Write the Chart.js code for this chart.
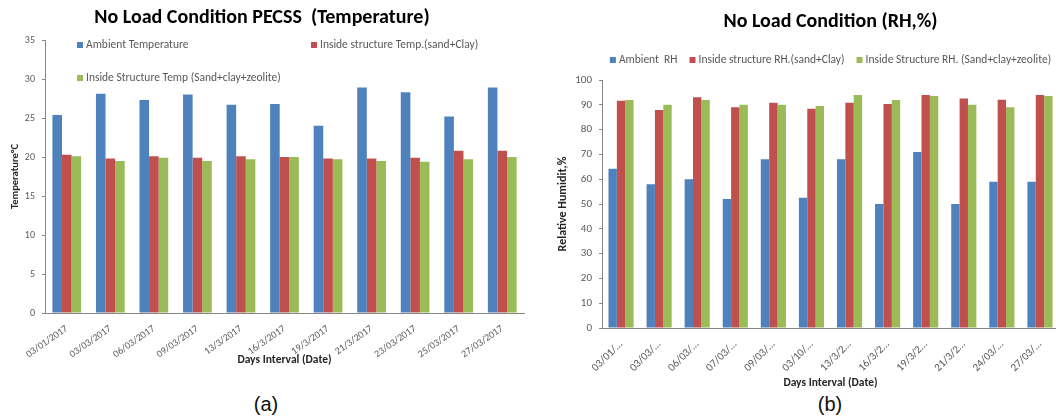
<!DOCTYPE html>
<html>
<head>
<meta charset="utf-8">
<title>No Load Condition</title>
<script src="https://cdn.jsdelivr.net/npm/chart.js@4.4.1/dist/chart.umd.min.js"></script>
<style>
  body { margin: 0; background: #fff; width: 1056px; height: 418px; overflow: hidden; position: relative; }
  #boxA { position: absolute; left: 0; top: 0; width: 528px; height: 370px; }
  #boxB { position: absolute; left: 530px; top: 0; width: 532px; height: 392px; }
  .cap { position: absolute; top: 393px; font: 20px Arial, "Liberation Sans", sans-serif; color: #111; transform: translateX(-50%); }
</style>
</head>
<body>
  <div id="boxA"><canvas id="tempChart"></canvas></div>
  <div id="boxB"><canvas id="rhChart"></canvas></div>
  <div class="cap" style="left:266px">(a)</div>
  <div class="cap" style="left:830px">(b)</div>

<script>
// (a) temperature, deg C
var tempDates = ['03/01/2017', '03/03/2017', '06/03/2017', '09/03/2017', '13/3/2017', '16/3/2017',
                 '19/3/2017', '21/3/2017', '23/03/2017', '25/03/2017', '27/03/2017'];
var ambientTemp   = [25.4, 28.1, 27.3, 28.0, 26.7, 26.8, 24.0, 28.9, 28.3, 25.2, 28.9];
var sandClayTemp  = [20.3, 19.8, 20.1, 19.9, 20.1, 20.0, 19.8, 19.8, 19.9, 20.8, 20.8];
var zeoliteTemp   = [20.1, 19.5, 19.9, 19.5, 19.7, 20.0, 19.7, 19.5, 19.4, 19.7, 20.0];

// (b) relative humidity, %
var rhDates = ['03/01/…', '03/03/…', '06/03/…', '07/03/…', '09/03/…', '03/10/…',
               '13/3/2…', '16/3/2…', '19/3/2…', '21/3/2…', '24/03/…', '27/03/…'];
var ambientRH   = [64.2, 58.0, 60.0, 52.0, 68.0, 52.5, 68.0, 50.0, 71.0, 50.0, 59.0, 59.0];
var sandClayRH  = [91.6, 87.9, 93.0, 89.0, 90.8, 88.4, 90.8, 90.3, 94.0, 92.5, 92.0, 94.0];
var zeoliteRH   = [91.9, 90.0, 91.9, 90.0, 90.0, 89.5, 94.0, 91.9, 93.5, 90.0, 89.0, 93.5];

var BLUE = '#4F81BD', RED = '#C0504D', GREEN = '#9BBB59';
var FONT = 'Carlito, Lato, "Open Sans", sans-serif';
var GREY = '#595959', AXIS = '#868686';

Chart.defaults.font.family = FONT;
Chart.defaults.color = GREY;

// excel style legend, placed by hand: either fixed spots inside the plot or one centred row above it
var excelLegend = {
  id: 'excelLegend',
  afterDraw: function(chart, args, opts) {
    var a = chart.chartArea, ctx = chart.ctx;
    var sets = chart.data.datasets;
    ctx.save();
    ctx.font = opts.size + 'px ' + FONT;
    ctx.textBaseline = 'middle';
    var xs = [], ys = [];
    if (opts.spots) {
      opts.spots.forEach(function(s) { xs.push(a.left + s[0]); ys.push(a.top + s[1]); });
    } else {
      var widths = sets.map(function(ds) { return 9 + ctx.measureText(ds.label).width; });
      var total = widths.reduce(function(p, w) { return p + w; }, 0) + opts.gap * (sets.length - 1);
      var x = (a.left + a.right) / 2 - total / 2;
      widths.forEach(function(w) { xs.push(x); ys.push(a.top + opts.dy); x += w + opts.gap; });
    }
    sets.forEach(function(ds, i) {
      ctx.fillStyle = ds.backgroundColor;
      ctx.fillRect(xs[i], ys[i] - 3, 6, 6);
      ctx.fillStyle = GREY;
      ctx.fillText(ds.label, xs[i] + 9, ys[i]);
    });
    ctx.restore();
  }
};

function dataset(label, data, color) {
  return { label: label, data: data, backgroundColor: color, borderWidth: 0,
           categoryPercentage: 0.66, barPercentage: 1.0 };
}

function xAxis(height, rot, tickSize, titlePad) {
  return {
    grid: { display: false },
    border: { display: true, color: AXIS },
    ticks: { minRotation: rot, maxRotation: rot, autoSkip: false, color: GREY, font: { size: tickSize }, padding: 2 },
    title: { display: true, text: 'Days Interval (Date)', color: '#262626',
             font: { size: 11.5, weight: 'bold' }, padding: { top: 0, bottom: titlePad } },
    afterFit: function(s) { s.height = height; }
  };
}

function yAxis(max, step, title, titleSize, tickSize, width, titlePad) {
  return {
    min: 0, max: max,
    grid: { drawOnChartArea: false, drawTicks: true, tickLength: 3, color: AXIS },
    border: { display: true, color: AXIS },
    ticks: { stepSize: step, color: GREY, font: { size: tickSize }, padding: 7 },
    title: { display: true, text: title, color: '#262626',
             font: { size: titleSize, weight: 'bold' }, padding: { top: titlePad, bottom: 0 } },
    afterFit: function(s) { s.width = width; }
  };
}

new Chart(document.getElementById('tempChart'), {
  type: 'bar',
  data: {
    labels: tempDates,
    datasets: [
      dataset('Ambient Temperature', ambientTemp, BLUE),
      dataset('Inside structure Temp.(sand+Clay)', sandClayTemp, RED),
      dataset('Inside Structure Temp (Sand+clay+zeolite)', zeoliteTemp, GREEN)
    ]
  },
  options: {
    responsive: true,
    maintainAspectRatio: false,
    animation: false,
    layout: { padding: { left: 0, right: 4, top: 0, bottom: 0 } },
    plugins: {
      legend: { display: false },
      tooltip: { enabled: false },
      title: { display: true, text: 'No Load Condition PECSS  (Temperature)', color: '#000',
               font: { size: 20, weight: 'bold' }, padding: { top: 6, bottom: 10 } },
      excelLegend: { size: 11.5, spots: [[32, 5], [266, 5], [32, 38]] }
    },
    scales: {
      x: xAxis(57, 35, 10, 3),
      y: yAxis(35, 5, 'Temperature°C', 10.5, 10, 45, 9)
    }
  },
  plugins: [excelLegend]
});

new Chart(document.getElementById('rhChart'), {
  type: 'bar',
  data: {
    labels: rhDates,
    datasets: [
      dataset('Ambient  RH', ambientRH, BLUE),
      dataset('Inside structure RH.(sand+Clay)', sandClayRH, RED),
      dataset('Inside Structure RH. (Sand+clay+zeolite)', zeoliteRH, GREEN)
    ]
  },
  options: {
    responsive: true,
    maintainAspectRatio: false,
    animation: false,
    layout: { padding: { left: 0, right: 3, top: 0, bottom: 0 } },
    plugins: {
      legend: { display: false },
      tooltip: { enabled: false },
      title: { display: true, text: 'No Load Condition (RH,%)', color: '#000', fullSize: false,
               font: { size: 20, weight: 'bold' }, padding: { top: 10, bottom: 46 } },
      excelLegend: { size: 11.5, gap: 12, dy: -20 }
    },
    scales: {
      x: xAxis(64, 45, 11, 2),
      y: yAxis(100, 10, 'Relative Humidit,%', 12, 11, 72, 26)
    }
  },
  plugins: [excelLegend]
});
</script>
</body>
</html>
